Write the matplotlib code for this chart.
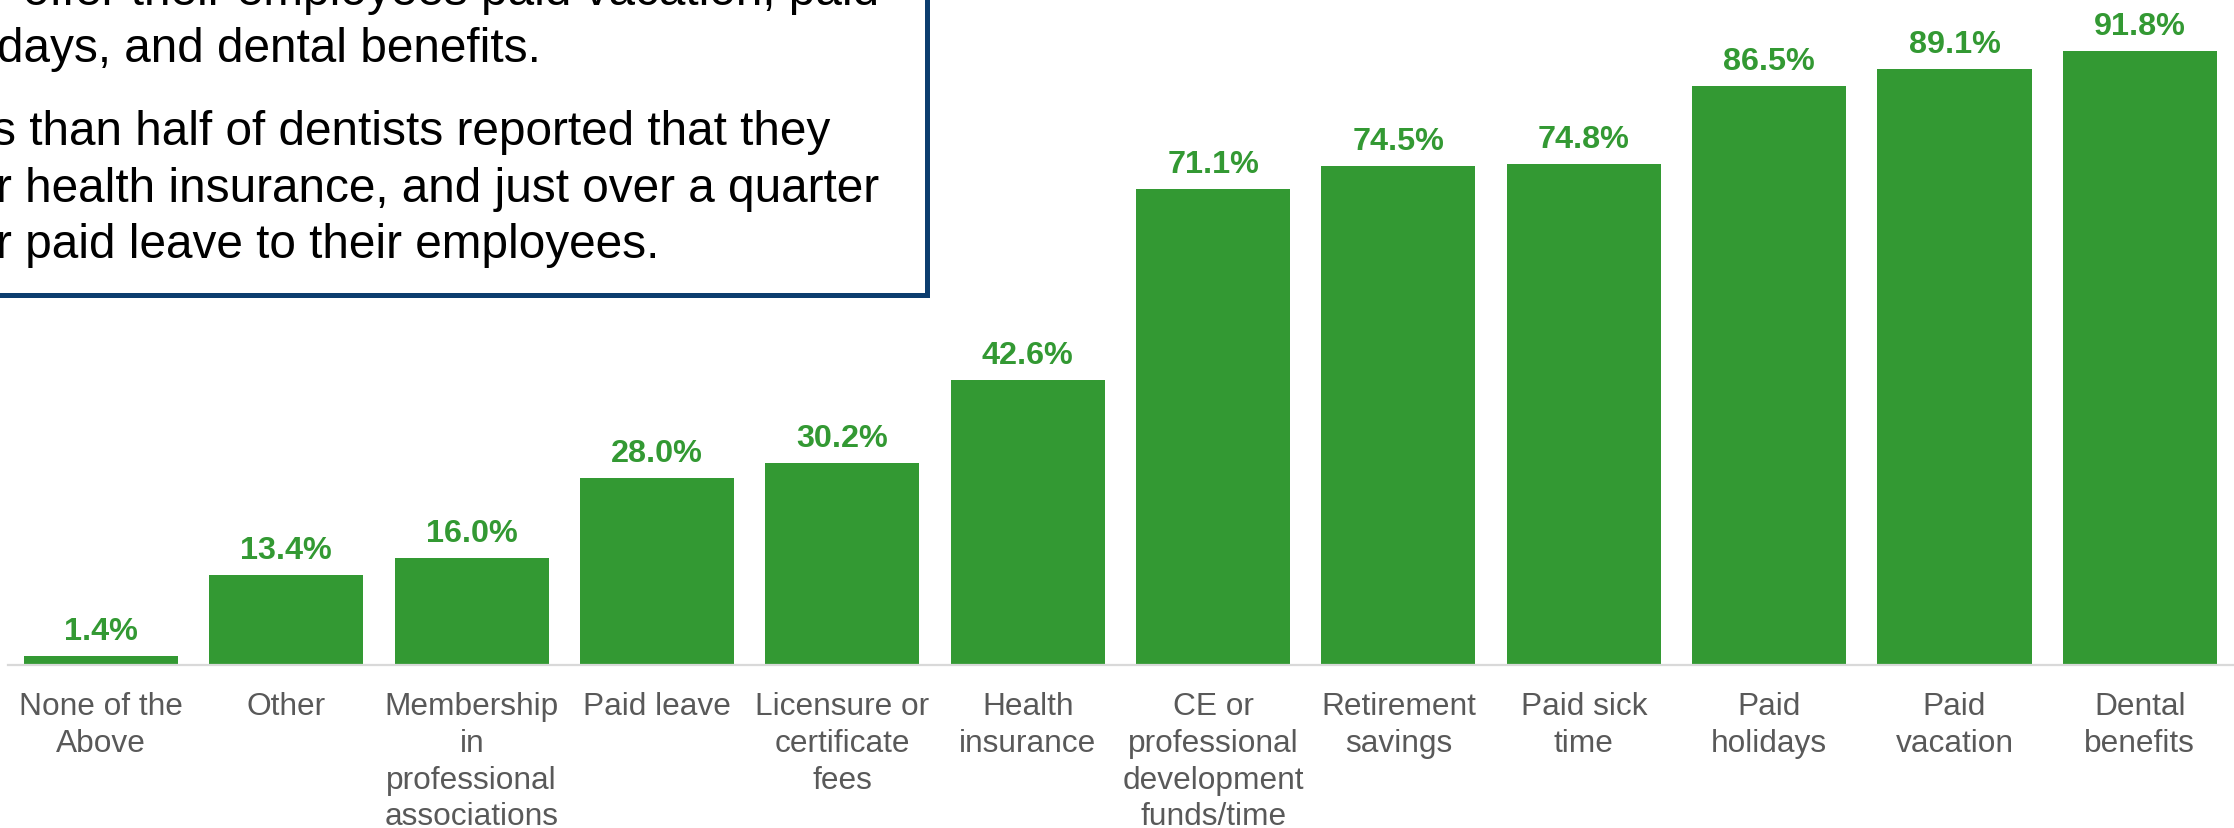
import matplotlib.pyplot as plt
from matplotlib.patches import Rectangle

plt.rcParams['font.family'] = ['Liberation Sans', 'DejaVu Sans']

# avantages offerts aux employés (%)
categories = ["None of the\nAbove", "Other", "Membership\nin\nprofessional\nassociations",
              "Paid leave", "Licensure or\ncertificate\nfees", "Health\ninsurance",
              "CE or\nprofessional\ndevelopment\nfunds/time", "Retirement\nsavings",
              "Paid sick\ntime", "Paid\nholidays", "Paid\nvacation", "Dental\nbenefits"]
valeurs = [1.4, 13.4, 16.0, 28.0, 30.2, 42.6, 71.1, 74.5, 74.8, 86.5, 89.1, 91.8]

# texte de l'encadré (partie visible)
lignes_encadre = ["offer their employees paid vacation, paid",
                  "days, and dental benefits.",
                  "s than half of dentists reported that they",
                  "r health insurance, and just over a quarter",
                  "r paid leave to their employees."]

vert = '#339933'
W, H = 2234, 829

fig = plt.figure(figsize=(W/100, H/100), dpi=100)
ax = fig.add_axes([0, 1-666/H, 1, 666/H])

x = list(range(len(valeurs)))
barres = ax.bar(x, valeurs, width=0.831, color=vert, zorder=2)
for xi, v in zip(x, valeurs):
    ax.annotate(f"{v:.1f}%", (xi, v), xytext=(0, 12.2), textcoords='offset points',
                ha='center', va='baseline', fontsize=23.3, fontweight='bold', color=vert)

ax.plot([-0.5, 11.5], [0, 0], color='#d9d9d9', linewidth=1.6, zorder=3, clip_on=False)

ax.set_xlim(-0.545, 11.508)
ax.set_ylim(0, 99.5)
ax.set_xticks(x)
ax.set_xticklabels(categories, fontsize=22.8, color='#595959', linespacing=1.29)
ax.tick_params(axis='x', length=0, pad=19)
ax.set_yticks([])
for s in ax.spines.values():
    s.set_visible(False)

# encadré en haut à gauche
cadre = Rectangle((-20/W, 1-295.5/H), (926.5+20)/W, 400/H, transform=fig.transFigure,
                  facecolor='white', edgecolor='#0c3d6f', linewidth=3.6, clip_on=False, zorder=5)
fig.add_artist(cadre)
positions = [(23, 5), (-3, 62), (-8, 145), (-4, 202), (-4, 258)]
for txt, (px, py) in zip(lignes_encadre, positions):
    fig.text(px/W, 1-py/H, txt, fontsize=34.4, color='black', ha='left', va='baseline', zorder=6)

fig.savefig('out.png', dpi=100)
